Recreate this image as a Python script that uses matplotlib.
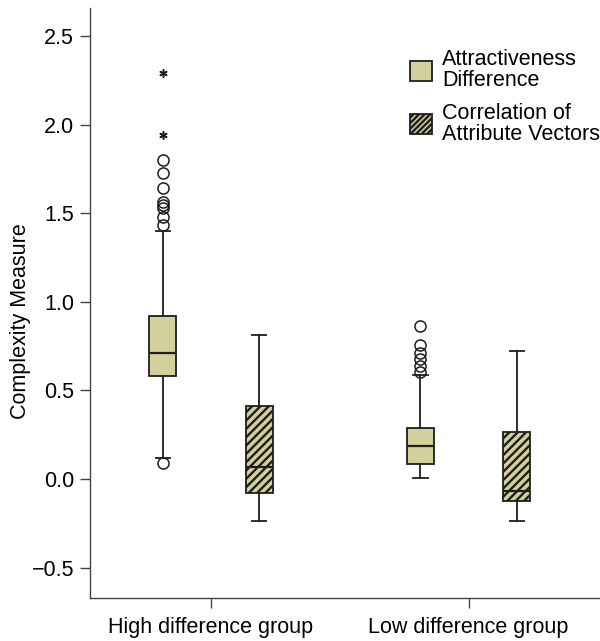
import numpy as np
import matplotlib

matplotlib.use("Agg")
import matplotlib.pyplot as plt  # noqa: E402
from matplotlib.patches import Patch  # noqa: E402

plt.rcParams["font.family"] = ["Liberation Sans", "DejaVu Sans"]
plt.rcParams["hatch.linewidth"] = 1.7
plt.rcParams["hatch.color"] = "#1a1a1a"

groups = ["High difference group", "Low difference group"]
series = ["Attractiveness\nDifference", "Correlation of\nAttribute Vectors"]

# five-number summaries: [whislo, q1, med, q3, whishi]
attr_high = [0.117, 0.582, 0.713, 0.923, 1.400]
attr_low = [0.004, 0.084, 0.188, 0.287, 0.586]
corr_high = [-0.240, -0.081, 0.066, 0.412, 0.813]
corr_low = [-0.236, -0.126, -0.069, 0.266, 0.723]

# outliers (circles) and extremes (stars)
attr_high_out = [0.09, 1.432, 1.477, 1.53, 1.55, 1.567, 1.646, 1.73, 1.80]
attr_high_ext = [1.943, 2.293]
attr_low_out = [0.604, 0.638, 0.676, 0.713, 0.756, 0.863]
corr_high_out = []
corr_low_out = []

FILL = "#d2d09b"
EDGE = "#1e1e1e"
FS = 15.5


def _stats(five, fliers):
    lo, q1, med, q3, hi = five
    return dict(whislo=lo, q1=q1, med=med, q3=q3, whishi=hi, fliers=fliers)


fig = plt.figure(figsize=(6, 6.41), dpi=100)
ax = fig.add_axes([0.15, 0.0671, 0.85, 0.9204])

offset = 0.187
width = 0.105
x = np.arange(len(groups))

sets = [
    ([attr_high, attr_low], [attr_high_out, attr_low_out], x - offset, None),
    ([corr_high, corr_low], [corr_high_out, corr_low_out], x + offset, "////"),
]
for fives, outs, pos, hatch in sets:
    stats = [_stats(f, o) for f, o in zip(fives, outs)]
    ax.bxp(
        stats,
        positions=pos,
        widths=width,
        capwidths=0.055,
        patch_artist=True,
        boxprops=dict(facecolor=FILL, edgecolor=EDGE, linewidth=1.3, hatch=hatch),
        medianprops=dict(color=EDGE, linewidth=1.6),
        whiskerprops=dict(color=EDGE, linewidth=1.3),
        capprops=dict(color=EDGE, linewidth=1.3),
        flierprops=dict(marker="o", markersize=8, markerfacecolor="none",
                        markeredgecolor=EDGE, markeredgewidth=1.1),
        manage_ticks=False,
    )

# extreme values drawn as small asterisks
ax.plot([x[0] - offset] * len(attr_high_ext), attr_high_ext, linestyle="none",
        marker=(6, 2, 0), markersize=6, markeredgewidth=1.1, color=EDGE)

ax.set_xlim(-0.47, 1.51)
ax.set_ylim(-0.672, 2.66)
ax.set_yticks([-0.5, 0.0, 0.5, 1.0, 1.5, 2.0, 2.5])
ax.set_yticklabels(["\u22120.5", "0.0", "0.5", "1.0", "1.5", "2.0", "2.5"])
ax.set_xticks(x)
ax.set_xticklabels(groups)
ax.tick_params(axis="both", labelsize=FS, length=7.5, width=1.0,
               color="#444444", pad=4)
ax.tick_params(axis="x", pad=6)
for side in ("top", "right"):
    ax.spines[side].set_visible(False)
for side in ("left", "bottom"):
    ax.spines[side].set_linewidth(1.0)
    ax.spines[side].set_color("#444444")

ax.set_ylabel("Complexity Measure", fontsize=FS)
ax.yaxis.set_label_coords(-0.116, 0.47)

handles = [
    Patch(facecolor=FILL, edgecolor=EDGE, linewidth=1.3),
    Patch(facecolor=FILL, edgecolor=EDGE, linewidth=1.3, hatch="//////"),
]
leg = ax.legend(handles, series, loc="upper left", bbox_to_anchor=(0.627, 0.93),
                frameon=False, fontsize=FS, handlelength=1.05, handleheight=1.05,
                handletextpad=0.45, labelspacing=0.52, borderpad=0, borderaxespad=0)
for t in leg.get_texts():
    t.set_linespacing(1.0)

fig.savefig("out.png", dpi=100)
plt.close(fig)
